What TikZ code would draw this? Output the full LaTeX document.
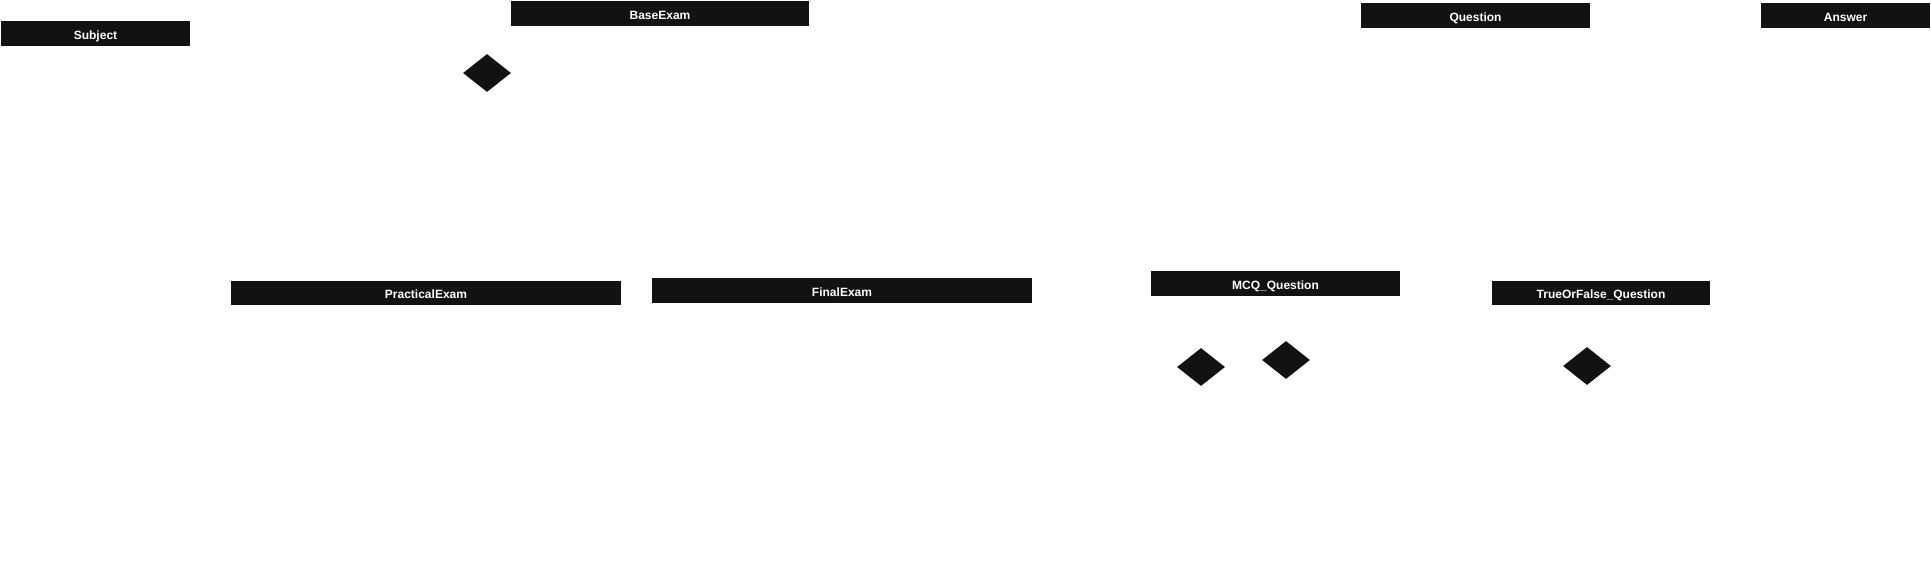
\documentclass[tikz,border=0pt]{standalone}
\usepackage{fontspec}
\setmainfont{Liberation Sans}
\usetikzlibrary{shapes.geometric}
\definecolor{boxfill}{HTML}{121212}
\begin{document}
\begin{tikzpicture}[x=0.75pt,y=-0.75pt,
  classbox/.style={rectangle,fill=boxfill,draw=none,text=white,inner sep=0pt,
    text height=8.4pt,text depth=0pt,
    minimum height=18.5pt,font=\fontsize{9pt}{10pt}\selectfont\bfseries},
  dmd/.style={diamond,fill=boxfill,draw=none,inner sep=0pt,minimum width=36pt,minimum height=28.5pt}]
\useasboundingbox (0,0) rectangle (1931,581);
\node[classbox,minimum width=141.75pt] (subject) at (95.5,33.5) {Subject};
\node[classbox,minimum width=223.5pt] (baseexam) at (660,13.5) {BaseExam};
\node[classbox,minimum width=171.75pt] (question) at (1475.5,15.5) {Question};
\node[classbox,minimum width=126.75pt] (answer) at (1845.5,15.5) {Answer};
\node[classbox,minimum width=292.5pt] (practical) at (426,293) {PracticalExam};
\node[classbox,minimum width=285pt] (final) at (842,290.5) {FinalExam};
\node[classbox,minimum width=186.75pt] (mcq) at (1275.5,283.5) {MCQ\_Question};
\node[classbox,minimum width=163.5pt] (tf) at (1601,293) {TrueOrFalse\_Question};
\node[dmd] (d1) at (487,73) {};
\node[dmd] (d2) at (1201,367) {};
\node[dmd] (d3) at (1286,360) {};
\node[dmd] (d4) at (1587,366) {};
\end{tikzpicture}
\end{document}
